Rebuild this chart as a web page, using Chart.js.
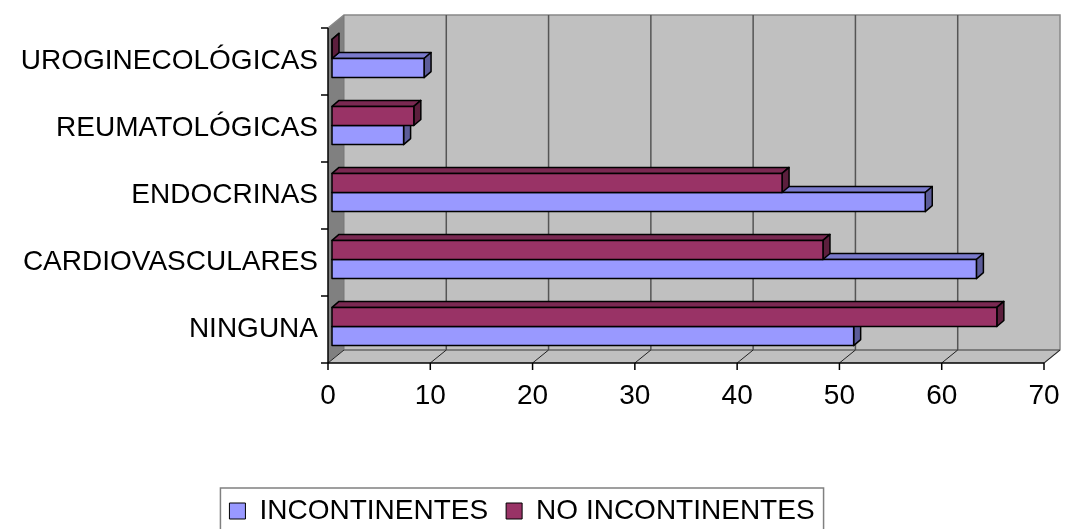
<!DOCTYPE html>
<html>
<head>
<meta charset="utf-8">
<script src="https://cdn.jsdelivr.net/npm/chart.js@4.4.0/dist/chart.umd.min.js"></script>
<style>
html, body { margin: 0; padding: 0; background: #fff; }
#wrap { width: 1067px; height: 529px; }
</style>
</head>
<body>
<div id="wrap"><canvas id="grafico"></canvas></div>
<script>
// datos
const categorias = ["NINGUNA", "CARDIOVASCULARES", "ENDOCRINAS", "REUMATOLÓGICAS", "UROGINECOLÓGICAS"];
const incontinentes = [51, 63, 58, 7, 9];
const noIncontinentes = [65, 48, 44, 8, 0];
const ticksX = [0, 10, 20, 30, 40, 50, 60, 70];

const fuente = "'Liberation Sans', Arial, sans-serif";

// profundidad de las paredes y de las barras (efecto 3D)
const pared = { dx: 16, dy: -13 };
const barra = { dx: 7, dy: -6, sx: 4, sy: -3 };

const azul = { frente: "#9999ff", arriba: "#7a7acc", lado: "#5c5c99" };
const granate = { frente: "#993366", arriba: "#7a2952", lado: "#5c1f3d" };

function trazo(ctx, pts, cerrar) {
    ctx.beginPath();
    ctx.moveTo(pts[0][0], pts[0][1]);
    for (let i = 1; i < pts.length; i++) ctx.lineTo(pts[i][0], pts[i][1]);
    if (cerrar) ctx.closePath();
}

function poligono(ctx, pts, fill, stroke, lw) {
    trazo(ctx, pts, true);
    if (fill) { ctx.fillStyle = fill; ctx.fill(); }
    if (stroke) { ctx.strokeStyle = stroke; ctx.lineWidth = lw; ctx.stroke(); }
}

function linea(ctx, x1, y1, x2, y2, color, lw) {
    trazo(ctx, [[x1, y1], [x2, y2]], false);
    ctx.strokeStyle = color;
    ctx.lineWidth = lw;
    ctx.stroke();
}

const caja3d = {
    id: "caja3d",
    beforeDatasetsDraw(chart) {
        const ctx = chart.ctx;
        const { left, right, top, bottom } = chart.chartArea;
        const xs = chart.scales.x;
        const dx = pared.dx, dy = pared.dy;
        ctx.save();

        // pared izquierda, suelo y fondo
        poligono(ctx, [[left, top], [left + dx, top + dy], [left + dx, bottom + dy], [left, bottom]], "#808080", null);
        poligono(ctx, [[left, bottom], [left + dx, bottom + dy], [right + dx, bottom + dy], [right, bottom]], "#c0c0c0", null);
        ctx.fillStyle = "#c0c0c0";
        ctx.fillRect(left + dx, top + dy, right - left, bottom - top);

        // bordes grises
        trazo(ctx, [[left, top], [left + dx, top + dy], [right + dx, top + dy], [right + dx, bottom + dy], [right, bottom]], false);
        ctx.strokeStyle = "#888";
        ctx.lineWidth = 1.5;
        ctx.stroke();
        linea(ctx, left + dx, top + dy, left + dx, bottom + dy, "#777", 1);
        linea(ctx, left + dx, bottom + dy, right + dx, bottom + dy, "#666", 1.5);

        // lineas de division en el fondo y en el suelo
        ticksX.forEach(v => {
            const px = xs.getPixelForValue(v);
            if (v > 0 && v < 70) linea(ctx, px + dx, top + dy, px + dx, bottom + dy, "#555", 1.5);
            linea(ctx, px, bottom, px + dx, bottom + dy, "#222", 1);
            linea(ctx, px, bottom, px, bottom + 7, "#000", 1.5);
        });

        // ejes frontales
        linea(ctx, left, top, left, bottom, "#000", 1.5);
        linea(ctx, left, bottom, right, bottom, "#000", 1.5);
        for (let k = 0; k <= categorias.length; k++) {
            const py = top + k * (bottom - top) / categorias.length;
            linea(ctx, left - 7, py, left, py, "#000", 1.5);
        }

        // barras con cara superior y lateral; primero la serie de abajo
        for (let di = chart.data.datasets.length - 1; di >= 0; di--) {
            const c = chart.data.datasets[di].caras;
            chart.getDatasetMeta(di).data.forEach(el => {
                const p = el.getProps(["x", "y", "base", "height"], true);
                const x0 = p.base + barra.sx, x1 = p.x + barra.sx;
                const y0 = p.y - p.height / 2 + barra.sy, y1 = p.y + p.height / 2 + barra.sy;
                ctx.lineJoin = "round";
                poligono(ctx, [[x0, y0], [x0 + barra.dx, y0 + barra.dy], [x1 + barra.dx, y0 + barra.dy], [x1, y0]], c.arriba, "#000", 1.5);
                poligono(ctx, [[x1, y0], [x1 + barra.dx, y0 + barra.dy], [x1 + barra.dx, y1 + barra.dy], [x1, y1]], c.lado, "#000", 1.5);
                poligono(ctx, [[x0, y0], [x1, y0], [x1, y1], [x0, y1]], c.frente, "#000", 1.5);
            });
        }

        ctx.restore();
        return false;
    },
    afterDraw(chart) {
        // marco de la leyenda
        const hb = chart.legend.legendHitBoxes;
        if (!hb || !hb.length) return;
        let x0 = Infinity, x1 = -Infinity;
        hb.forEach(h => { x0 = Math.min(x0, h.left); x1 = Math.max(x1, h.left + h.width); });
        const ctx = chart.ctx;
        ctx.save();
        ctx.strokeStyle = "#808080";
        ctx.lineWidth = 1.5;
        ctx.strokeRect(x0 - 9, hb[0].top - 9, x1 - x0 + 18, 60);
        ctx.restore();
    }
};

new Chart(document.getElementById("grafico"), {
    type: "bar",
    data: {
        labels: categorias,
        datasets: [
            {
                label: "NO INCONTINENTES",
                data: noIncontinentes,
                caras: granate,
                backgroundColor: granate.frente,
                borderColor: "#000",
                borderWidth: 1
            },
            {
                label: "INCONTINENTES",
                data: incontinentes,
                caras: azul,
                backgroundColor: azul.frente,
                borderColor: "#000",
                borderWidth: 1
            }
        ]
    },
    options: {
        indexAxis: "y",
        responsive: true,
        maintainAspectRatio: false,
        animation: false,
        categoryPercentage: 0.57,
        barPercentage: 1,
        layout: { padding: { top: 28, right: 23, left: 0, bottom: -6 } },
        scales: {
            x: {
                min: 0,
                max: 70,
                afterBuildTicks(scale) { scale.ticks = ticksX.map(v => ({ value: v })); },
                afterFit(scale) {
                    scale.height = 116;
                    scale.paddingLeft = 0;
                    scale.paddingRight = 0;
                },
                grid: { display: false, drawTicks: false },
                border: { display: false },
                ticks: { color: "#000", padding: 16, font: { family: fuente, size: 28 } }
            },
            y: {
                reverse: true,
                afterFit(scale) { scale.width = 328; },
                grid: { display: false, drawTicks: false },
                border: { display: false },
                ticks: { color: "#000", padding: 10, font: { family: fuente, size: 28 } }
            }
        },
        plugins: {
            tooltip: { enabled: false },
            legend: {
                position: "bottom",
                reverse: true,
                labels: {
                    color: "#000",
                    boxWidth: 16,
                    boxHeight: 16,
                    padding: 18,
                    font: { family: fuente, size: 28 }
                }
            }
        }
    },
    plugins: [caja3d]
});
</script>
</body>
</html>
